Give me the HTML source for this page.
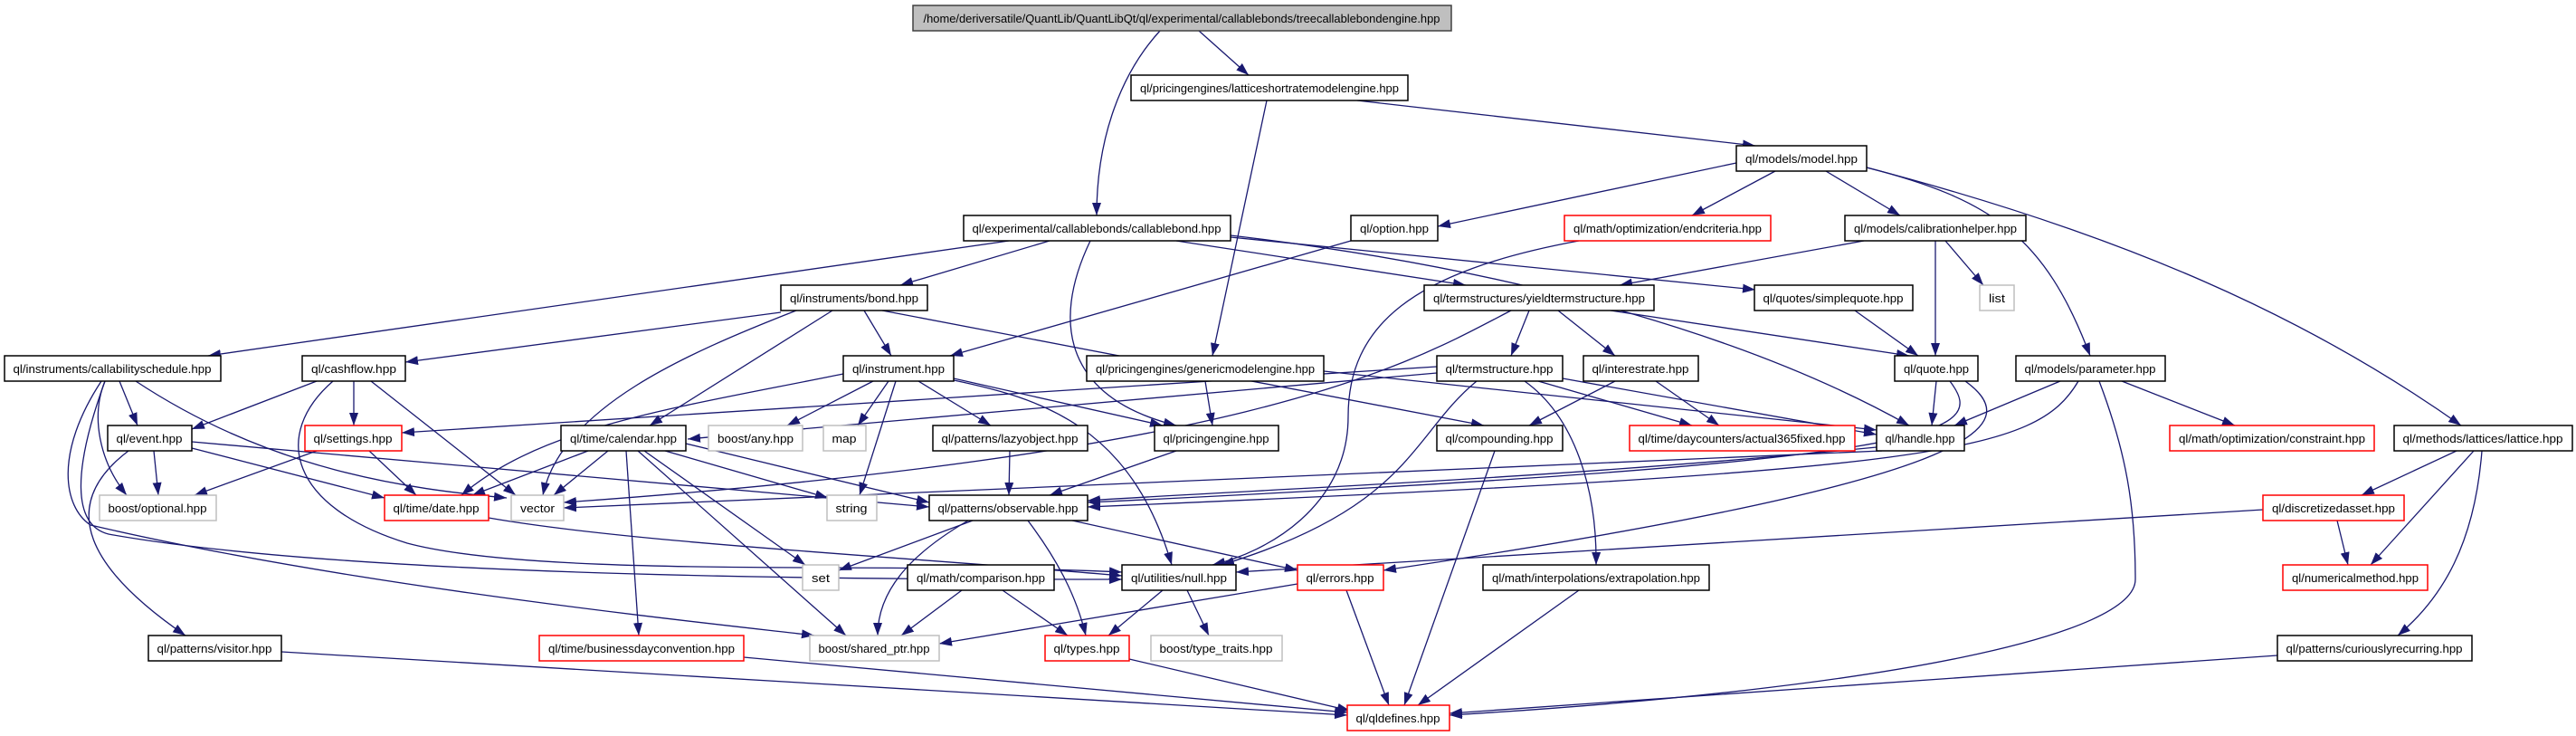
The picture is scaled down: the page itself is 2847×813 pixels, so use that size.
<!DOCTYPE html>
<html><head><meta charset="utf-8">
<style>
html,body{margin:0;padding:0;background:#fff;}
svg{display:block;}
text{font-family:"Liberation Sans",Arial,sans-serif;font-size:13px;fill:#000;}
</style></head>
<body>
<svg xmlns="http://www.w3.org/2000/svg" width="2847" height="813" viewBox="0 0 2847 813">
<defs>
<marker id="a" markerUnits="userSpaceOnUse" markerWidth="14" markerHeight="10" refX="14" refY="5" orient="auto">
<path d="M0,0 L14,5 L0,10 z" fill="#191970"/>
</marker>
</defs>
<g stroke="#191970" stroke-width="1.3" fill="none" marker-end="url(#a)">
<!-- root -->
<path d="M1282 34 C1240 80 1212 150 1212 238"/>
<path d="M1325 34 L1380 83"/>
<!-- lsr -->
<path d="M1500 111 L1940 161"/>
<path d="M1400 111 L1340 393"/>
<!-- model -->
<path d="M1919 180 L1589 250"/>
<path d="M1962 189 L1870 238"/>
<path d="M2018 189 L2100 238"/>
<path d="M2063 185 C2200 220 2260 260 2310 393"/>
<path d="M2063 185 C2350 260 2550 350 2720 470"/>
<!-- callablebond -->
<path d="M1115 266 L230 393"/>
<path d="M1160 266 L995 315"/>
<path d="M1205 266 C1160 360 1180 440 1300 470"/>
<path d="M1300 266 L1620 315"/>
<path d="M1360 262 L1940 320"/>
<path d="M1360 260 C1700 300 1950 380 2110 470"/>
<!-- option -->
<path d="M1493 266 L1050 393"/>
<!-- endcriteria -->
<path d="M1745 266 C1560 300 1490 360 1490 460 C1490 560 1400 610 1340 624"/>
<!-- calib -->
<path d="M2060 266 L1790 315"/>
<path d="M2139 266 L2139 393"/>
<path d="M2150 266 L2192 315"/>
<!-- bond -->
<path d="M863 345 L448 400"/>
<path d="M920 343 L718 470"/>
<path d="M955 343 L985 393"/>
<path d="M975 343 L1640 470"/>
<path d="M880 343 C760 390 620 450 600 547"/>
<!-- yts -->
<path d="M1690 343 L1670 393"/>
<path d="M1722 343 L1785 393"/>
<path d="M1780 343 L2110 393"/>
<path d="M1670 343 C1560 400 1400 500 623 555"/>
<!-- sq -->
<path d="M2050 343 L2120 393"/>
<!-- cs -->
<path d="M132 421 L152 470"/>
<path d="M116 421 C100 460 110 510 140 547"/>
<path d="M150 421 C300 520 450 540 560 550"/>
<path d="M112 421 C60 500 70 560 100 580 C400 650 800 690 900 702"/>
<path d="M116 421 C80 520 80 580 120 590 C400 640 1000 640 1240 640"/>
<!-- cf -->
<path d="M350 421 L212 474"/>
<path d="M391 421 L391 470"/>
<path d="M410 421 L570 547"/>
<path d="M368 421 C300 480 320 560 450 600 C600 640 1000 620 1240 632"/>
<!-- instrument -->
<path d="M965 421 L870 470"/>
<path d="M982 421 L948 470"/>
<path d="M990 421 L950 547"/>
<path d="M1015 421 L1095 470"/>
<path d="M1054 418 L1285 470"/>
<path d="M1054 420 C1150 440 1250 470 1295 624"/>
<path d="M932 413 C750 450 600 470 510 547"/>
<!-- gme -->
<path d="M1332 421 L1340 470"/>
<path d="M1463 410 L2074 475"/>
<!-- ts -->
<path d="M1588 412 L760 485"/>
<path d="M1588 405 L444 478"/>
<path d="M1700 421 L1870 470"/>
<path d="M1727 418 L2074 480"/>
<path d="M1632 421 C1560 480 1560 560 1350 624"/>
<path d="M1685 421 C1740 460 1765 540 1764 624"/>
<!-- ir -->
<path d="M1785 421 L1690 470"/>
<path d="M1830 421 L1900 470"/>
<!-- quote -->
<path d="M2140 421 L2135 470"/>
<path d="M2155 421 C2200 480 2150 510 1202 555"/>
<path d="M2172 421 C2240 470 2200 530 1529 630"/>
<!-- param -->
<path d="M2277 421 L2160 470"/>
<path d="M2297 421 C2250 500 2150 520 1202 560"/>
<path d="M2320 421 C2350 500 2360 560 2360 640 C2360 700 2100 760 1602 790"/>
<path d="M2345 421 L2470 470"/>
<!-- event -->
<path d="M170 498 L175 547"/>
<path d="M212 495 L425 550"/>
<path d="M212 488 L1027 560"/>
<path d="M142 498 C60 560 100 630 205 702"/>
<!-- settings -->
<path d="M350 498 L215 547"/>
<path d="M408 498 L460 547"/>
<!-- calendar -->
<path d="M650 498 L522 547"/>
<path d="M672 498 L612 547"/>
<path d="M735 498 L915 550"/>
<path d="M712 498 L890 624"/>
<path d="M705 498 L935 702"/>
<path d="M692 498 L706 702"/>
<path d="M758 490 L1027 555"/>
<!-- lazy / pe -->
<path d="M1116 498 L1115 547"/>
<path d="M1300 498 L1160 547"/>
<!-- handle -->
<path d="M2080 498 L623 561"/>
<path d="M2074 494 C1700 530 1400 540 1202 553"/>
<!-- lattice -->
<path d="M2715 498 L2610 547"/>
<path d="M2734 498 L2620 624"/>
<path d="M2743 498 C2735 600 2700 660 2650 702"/>
<!-- disc -->
<path d="M2583 575 L2595 624"/>
<path d="M2501 563 L1366 632"/>
<!-- date -->
<path d="M540 572 C700 600 1000 615 1240 636"/>
<!-- observable -->
<path d="M1075 575 L927 630"/>
<path d="M1070 575 C1010 610 970 650 970 702"/>
<path d="M1136 575 C1170 620 1190 660 1200 702"/>
<path d="M1185 575 L1434 630"/>
<!-- comparison -->
<path d="M1063 652 L996 702"/>
<path d="M1108 652 L1180 702"/>
<!-- null -->
<path d="M1285 652 L1225 702"/>
<path d="M1312 652 L1336 702"/>
<!-- errors -->
<path d="M1434 645 L1038 711"/>
<path d="M1488 652 L1535 779"/>
<!-- to qldefines -->
<path d="M1248 728 L1492 785"/>
<path d="M311 720 L1489 790"/>
<path d="M822 726 L1489 787"/>
<path d="M1652 498 L1552 779"/>
<path d="M1745 652 L1567 779"/>
<path d="M2517 724 L1602 788"/>
</g>
<g stroke-width="1.5">
<rect x="1009" y="6" width="595" height="28" fill="#bfbfbf" stroke="#404040"/>
<rect x="1250" y="83" width="306" height="28" fill="#fff" stroke="#000"/>
<rect x="1919" y="161" width="144" height="28" fill="#fff" stroke="#000"/>
<rect x="1065" y="238" width="295" height="28" fill="#fff" stroke="#000"/>
<rect x="1493" y="238" width="96" height="28" fill="#fff" stroke="#000"/>
<rect x="1729" y="238" width="228" height="28" fill="#fff" stroke="#ff0000"/>
<rect x="2039" y="238" width="200" height="28" fill="#fff" stroke="#000"/>
<rect x="863" y="315" width="162" height="28" fill="#fff" stroke="#000"/>
<rect x="1574" y="315" width="254" height="28" fill="#fff" stroke="#000"/>
<rect x="1939" y="315" width="175" height="28" fill="#fff" stroke="#000"/>
<rect x="2188" y="315" width="38" height="28" fill="#fff" stroke="#bfbfbf"/>
<rect x="5" y="393" width="239" height="28" fill="#fff" stroke="#000"/>
<rect x="334" y="393" width="114" height="28" fill="#fff" stroke="#000"/>
<rect x="932" y="393" width="122" height="28" fill="#fff" stroke="#000"/>
<rect x="1201" y="393" width="262" height="28" fill="#fff" stroke="#000"/>
<rect x="1588" y="393" width="139" height="28" fill="#fff" stroke="#000"/>
<rect x="1750" y="393" width="127" height="28" fill="#fff" stroke="#000"/>
<rect x="2094" y="393" width="92" height="28" fill="#fff" stroke="#000"/>
<rect x="2228" y="393" width="165" height="28" fill="#fff" stroke="#000"/>
<rect x="119" y="470" width="93" height="28" fill="#fff" stroke="#000"/>
<rect x="337" y="470" width="107" height="28" fill="#fff" stroke="#ff0000"/>
<rect x="620" y="470" width="138" height="28" fill="#fff" stroke="#000"/>
<rect x="783" y="470" width="104" height="28" fill="#fff" stroke="#bfbfbf"/>
<rect x="910" y="470" width="47" height="28" fill="#fff" stroke="#bfbfbf"/>
<rect x="1031" y="470" width="171" height="28" fill="#fff" stroke="#000"/>
<rect x="1276" y="470" width="137" height="28" fill="#fff" stroke="#000"/>
<rect x="1588" y="470" width="139" height="28" fill="#fff" stroke="#000"/>
<rect x="1801" y="470" width="249" height="28" fill="#fff" stroke="#ff0000"/>
<rect x="2074" y="470" width="97" height="28" fill="#fff" stroke="#000"/>
<rect x="2398" y="470" width="226" height="28" fill="#fff" stroke="#ff0000"/>
<rect x="2646" y="470" width="197" height="28" fill="#fff" stroke="#000"/>
<rect x="110" y="547" width="129" height="28" fill="#fff" stroke="#bfbfbf"/>
<rect x="425" y="547" width="115" height="28" fill="#fff" stroke="#ff0000"/>
<rect x="565" y="547" width="58" height="28" fill="#fff" stroke="#bfbfbf"/>
<rect x="914" y="547" width="55" height="28" fill="#fff" stroke="#bfbfbf"/>
<rect x="1027" y="547" width="175" height="28" fill="#fff" stroke="#000"/>
<rect x="2501" y="547" width="156" height="28" fill="#fff" stroke="#ff0000"/>
<rect x="887" y="624" width="40" height="28" fill="#fff" stroke="#bfbfbf"/>
<rect x="1003" y="624" width="162" height="28" fill="#fff" stroke="#000"/>
<rect x="1240" y="624" width="126" height="28" fill="#fff" stroke="#000"/>
<rect x="1434" y="624" width="95" height="28" fill="#fff" stroke="#ff0000"/>
<rect x="1639" y="624" width="250" height="28" fill="#fff" stroke="#000"/>
<rect x="2523" y="624" width="160" height="28" fill="#fff" stroke="#ff0000"/>
<rect x="164" y="702" width="147" height="28" fill="#fff" stroke="#000"/>
<rect x="596" y="702" width="226" height="28" fill="#fff" stroke="#ff0000"/>
<rect x="895" y="702" width="143" height="28" fill="#fff" stroke="#bfbfbf"/>
<rect x="1155" y="702" width="93" height="28" fill="#fff" stroke="#ff0000"/>
<rect x="1272" y="702" width="145" height="28" fill="#fff" stroke="#bfbfbf"/>
<rect x="2517" y="702" width="215" height="28" fill="#fff" stroke="#000"/>
<rect x="1489" y="779" width="113" height="28" fill="#fff" stroke="#ff0000"/>
</g>
<g text-anchor="middle" lengthAdjust="spacingAndGlyphs">
<text x="1306" y="25" textLength="571" lengthAdjust="spacingAndGlyphs">/home/deriversatile/QuantLib/QuantLibQt/ql/experimental/callablebonds/treecallablebondengine.hpp</text>
<text x="1403" y="102" textLength="286" lengthAdjust="spacingAndGlyphs">ql/pricingengines/latticeshortratemodelengine.hpp</text>
<text x="1991" y="180" textLength="124" lengthAdjust="spacingAndGlyphs">ql/models/model.hpp</text>
<text x="1212" y="257" textLength="275" lengthAdjust="spacingAndGlyphs">ql/experimental/callablebonds/callablebond.hpp</text>
<text x="1541" y="257" textLength="76" lengthAdjust="spacingAndGlyphs">ql/option.hpp</text>
<text x="1843" y="257" textLength="208" lengthAdjust="spacingAndGlyphs">ql/math/optimization/endcriteria.hpp</text>
<text x="2139" y="257" textLength="180" lengthAdjust="spacingAndGlyphs">ql/models/calibrationhelper.hpp</text>
<text x="944" y="334" textLength="142" lengthAdjust="spacingAndGlyphs">ql/instruments/bond.hpp</text>
<text x="1701" y="334" textLength="234" lengthAdjust="spacingAndGlyphs">ql/termstructures/yieldtermstructure.hpp</text>
<text x="2026" y="334" textLength="155" lengthAdjust="spacingAndGlyphs">ql/quotes/simplequote.hpp</text>
<text x="2207" y="334" textLength="18" lengthAdjust="spacingAndGlyphs">list</text>
<text x="124" y="412" textLength="219" lengthAdjust="spacingAndGlyphs">ql/instruments/callabilityschedule.hpp</text>
<text x="391" y="412" textLength="94" lengthAdjust="spacingAndGlyphs">ql/cashflow.hpp</text>
<text x="993" y="412" textLength="102" lengthAdjust="spacingAndGlyphs">ql/instrument.hpp</text>
<text x="1332" y="412" textLength="242" lengthAdjust="spacingAndGlyphs">ql/pricingengines/genericmodelengine.hpp</text>
<text x="1657" y="412" textLength="119" lengthAdjust="spacingAndGlyphs">ql/termstructure.hpp</text>
<text x="1813" y="412" textLength="107" lengthAdjust="spacingAndGlyphs">ql/interestrate.hpp</text>
<text x="2140" y="412" textLength="72" lengthAdjust="spacingAndGlyphs">ql/quote.hpp</text>
<text x="2310" y="412" textLength="145" lengthAdjust="spacingAndGlyphs">ql/models/parameter.hpp</text>
<text x="165" y="489" textLength="73" lengthAdjust="spacingAndGlyphs">ql/event.hpp</text>
<text x="390" y="489" textLength="87" lengthAdjust="spacingAndGlyphs">ql/settings.hpp</text>
<text x="689" y="489" textLength="118" lengthAdjust="spacingAndGlyphs">ql/time/calendar.hpp</text>
<text x="835" y="489" textLength="84" lengthAdjust="spacingAndGlyphs">boost/any.hpp</text>
<text x="933" y="489" textLength="27" lengthAdjust="spacingAndGlyphs">map</text>
<text x="1116" y="489" textLength="151" lengthAdjust="spacingAndGlyphs">ql/patterns/lazyobject.hpp</text>
<text x="1344" y="489" textLength="117" lengthAdjust="spacingAndGlyphs">ql/pricingengine.hpp</text>
<text x="1657" y="489" textLength="119" lengthAdjust="spacingAndGlyphs">ql/compounding.hpp</text>
<text x="1925" y="489" textLength="229" lengthAdjust="spacingAndGlyphs">ql/time/daycounters/actual365fixed.hpp</text>
<text x="2122" y="489" textLength="77" lengthAdjust="spacingAndGlyphs">ql/handle.hpp</text>
<text x="2511" y="489" textLength="206" lengthAdjust="spacingAndGlyphs">ql/math/optimization/constraint.hpp</text>
<text x="2744" y="489" textLength="177" lengthAdjust="spacingAndGlyphs">ql/methods/lattices/lattice.hpp</text>
<text x="174" y="566" textLength="109" lengthAdjust="spacingAndGlyphs">boost/optional.hpp</text>
<text x="482" y="566" textLength="95" lengthAdjust="spacingAndGlyphs">ql/time/date.hpp</text>
<text x="594" y="566" textLength="38" lengthAdjust="spacingAndGlyphs">vector</text>
<text x="941" y="566" textLength="35" lengthAdjust="spacingAndGlyphs">string</text>
<text x="1114" y="566" textLength="155" lengthAdjust="spacingAndGlyphs">ql/patterns/observable.hpp</text>
<text x="2579" y="566" textLength="136" lengthAdjust="spacingAndGlyphs">ql/discretizedasset.hpp</text>
<text x="907" y="643" textLength="20" lengthAdjust="spacingAndGlyphs">set</text>
<text x="1084" y="643" textLength="142" lengthAdjust="spacingAndGlyphs">ql/math/comparison.hpp</text>
<text x="1303" y="643" textLength="106" lengthAdjust="spacingAndGlyphs">ql/utilities/null.hpp</text>
<text x="1481" y="643" textLength="75" lengthAdjust="spacingAndGlyphs">ql/errors.hpp</text>
<text x="1764" y="643" textLength="230" lengthAdjust="spacingAndGlyphs">ql/math/interpolations/extrapolation.hpp</text>
<text x="2603" y="643" textLength="140" lengthAdjust="spacingAndGlyphs">ql/numericalmethod.hpp</text>
<text x="237" y="721" textLength="127" lengthAdjust="spacingAndGlyphs">ql/patterns/visitor.hpp</text>
<text x="709" y="721" textLength="206" lengthAdjust="spacingAndGlyphs">ql/time/businessdayconvention.hpp</text>
<text x="966" y="721" textLength="123" lengthAdjust="spacingAndGlyphs">boost/shared_ptr.hpp</text>
<text x="1201" y="721" textLength="73" lengthAdjust="spacingAndGlyphs">ql/types.hpp</text>
<text x="1344" y="721" textLength="125" lengthAdjust="spacingAndGlyphs">boost/type_traits.hpp</text>
<text x="2624" y="721" textLength="195" lengthAdjust="spacingAndGlyphs">ql/patterns/curiouslyrecurring.hpp</text>
<text x="1545" y="798" textLength="93" lengthAdjust="spacingAndGlyphs">ql/qldefines.hpp</text>
</g>
</svg>
</body></html>
